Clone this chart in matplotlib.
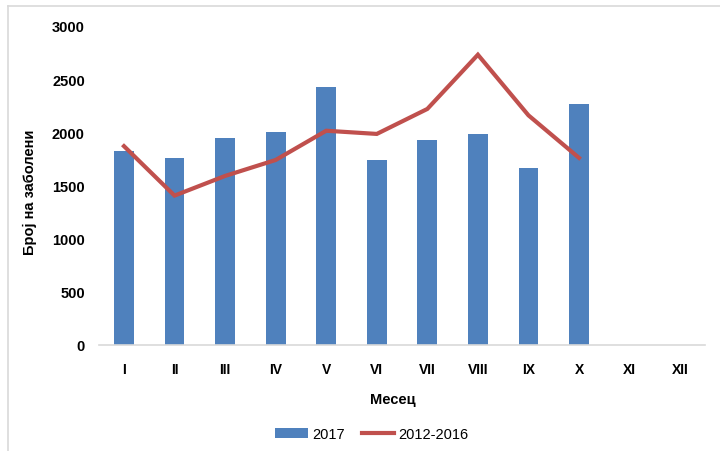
import matplotlib
matplotlib.use("Agg")
import matplotlib.pyplot as plt
from matplotlib.lines import Line2D
from matplotlib.patches import Patch
import numpy as np

months = ["I", "II", "III", "IV", "V", "VI", "VII", "VIII", "IX", "X", "XI", "XII"]
cases_2017 = [1825, 1760, 1945, 2000, 2430, 1740, 1930, 1985, 1665, 2265]
avg_2012_2016 = [1870, 1405, 1590, 1740, 2015, 1985, 2220, 2730, 2160, 1760]
yticks = [0, 500, 1000, 1500, 2000, 2500, 3000]

plt.rcParams['font.family'] = ['Liberation Sans Narrow', 'Liberation Sans', 'DejaVu Sans']

W, H = 720, 452
fig = plt.figure(figsize=(W / 100, H / 100), dpi=100)
ax = fig.add_axes([98.7 / W, (H - 346) / H, (705.4 - 98.7) / W, (346 - 27) / H])

x = np.arange(len(months))
ax.bar(x[:len(cases_2017)], cases_2017, width=0.39, color="#4F81BD", zorder=2)
ax.plot(x[:len(avg_2012_2016)], avg_2012_2016, color="#C0504D", lw=3, zorder=3,
        solid_joinstyle="miter")

ax.set_xlim(-0.5, len(months) - 0.5)
ax.set_ylim(0, 3000)
ax.set_xticks(x)
ax.set_xticklabels(months, fontsize=10, fontweight="bold")
ax.set_yticks(yticks)
ax.set_yticklabels([str(v) for v in yticks], fontsize=10.5, fontweight="bold")
ax.tick_params(axis="x", length=0, pad=12.5)
ax.tick_params(axis="y", length=0, pad=10)
for s in ["top", "right", "left"]:
    ax.spines[s].set_visible(False)
ax.spines["bottom"].set_color("#D9D9D9")
ax.spines["bottom"].set_linewidth(1.2)

fig.text(30 / W, 1 - 192 / H, "Број на заболени", rotation=90, ha="center", va="center",
         fontsize=10.5, fontweight="bold")
fig.text(393 / W, 1 - 400 / H, "Месец", ha="center", va="center",
         fontsize=10.5, fontweight="bold")

handles = [Patch(facecolor="#4F81BD", edgecolor="none"),
           Line2D([0], [0], color="#C0504D", lw=3)]
fig.legend(handles, ["2017", "2012-2016"], loc="center", bbox_to_anchor=(372 / W, 1 - 435 / H),
           ncol=2, frameon=False, fontsize=10.5, handlelength=2.2, columnspacing=1.2,
           handletextpad=0.3)

# chart frame (cut off on right and bottom)
fig.add_artist(Line2D([8 / W, 8 / W], [0, 1 - 7 / H], color="#D9D9D9", lw=1.2,
                      transform=fig.transFigure))
fig.add_artist(Line2D([8 / W, 1], [1 - 7 / H, 1 - 7 / H], color="#D9D9D9", lw=1.2,
                      transform=fig.transFigure))

fig.savefig("out.png", dpi=100)
